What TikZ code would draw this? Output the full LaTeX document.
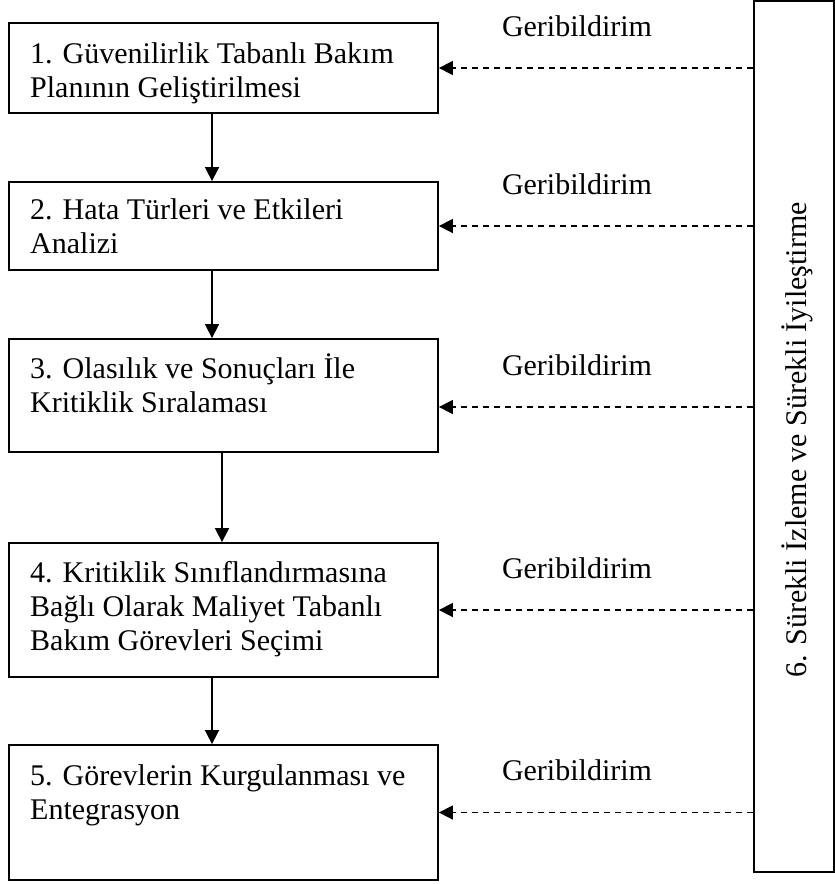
\documentclass[tikz,border=0pt]{standalone}
\usepackage{fontspec}
\setmainfont{Liberation Serif}
\usetikzlibrary{arrows.meta,calc}
\begin{document}
\begin{tikzpicture}[x=1pt,y=-1pt,
  box/.style={draw,line width=1.8pt,rectangle,inner sep=0pt,minimum width=429pt},
  boxtext/.style={anchor=north west,inner sep=0pt,align=left,font=\fontsize{30}{34}\selectfont},
  fbtext/.style={anchor=base,inner sep=0pt,font=\fontsize{30}{34}\selectfont},
  arr/.style={line width=1.6pt,-{Triangle[length=14pt,width=14pt]}},
  fb/.style={line width=1.6pt,dash pattern=on 6pt off 5pt,-{Triangle[length=14pt,width=14pt]}}]
\useasboundingbox (0,0) rectangle (835,884);
% boxes
\node[box,minimum height=90pt]  (b1) at (223.5,68) {};
\node[box,minimum height=88pt]  (b2) at (223.5,226) {};
\node[box,minimum height=113pt] (b3) at (223.5,395.5) {};
\node[box,minimum height=134pt] (b4) at (223.5,610) {};
\node[box,minimum height=135pt] (b5) at (223.5,812.5) {};
\node[draw,line width=1.8pt,rectangle,inner sep=0pt,minimum width=80pt,minimum height=871pt] (rb) at (794,436.5) {};
% box texts
\node[boxtext] (t1) at (30,{63-23.8}) {\strut 1. Güvenilirlik Tabanlı Bakım\\Planının Geliştirilmesi};
\node[boxtext] (t2) at (30,{219-23.8}) {\strut 2. Hata Türleri ve Etkileri\\Analizi};
\node[boxtext] (t3) at (30,{377-23.8}) {\strut 3. Olasılık ve Sonuçları İle\\Kritiklik Sıralaması};
\node[boxtext] (t4) at (30,{582-23.8}) {\strut 4. Kritiklik Sınıflandırmasına\\Bağlı Olarak Maliyet Tabanlı\\Bakım Görevleri Seçimi};
\node[boxtext] (t5) at (30,{785-23.8}) {\strut 5. Görevlerin Kurgulanması ve\\Entegrasyon};
% vertical text
\node[rotate=90,inner sep=0pt,font=\fontsize{30}{34}\selectfont] (t6) at (797,440) {6. Sürekli İzleme ve Sürekli İyileştirme};
% feedback labels
\node[fbtext] (g1) at (577,36) {Geribildirim};
\node[fbtext] (g2) at (577,194) {Geribildirim};
\node[fbtext] (g3) at (577,375) {Geribildirim};
\node[fbtext] (g4) at (577,578) {Geribildirim};
\node[fbtext] (g5) at (577,780) {Geribildirim};
% vertical arrows
\draw[arr] ([xshift=-11.5pt]b1.south) -- ([xshift=-11.5pt]b2.north);
\draw[arr] ([xshift=-11.5pt]b2.south) -- ([xshift=-11.5pt]b3.north);
\draw[arr] ([xshift=-1.5pt]b3.south) -- ([xshift=-1.5pt]b4.north);
\draw[arr] ([xshift=-11.5pt]b4.south) -- ([xshift=-11.5pt]b5.north);
% feedback arrows
\coordinate (e3) at ([yshift=-11.5pt]b3.east);
\draw[fb] (rb.west |- b1.east) -- (b1.east);
\draw[fb] (rb.west |- b2.east) -- (b2.east);
\draw[fb] (rb.west |- e3) -- (e3);
\draw[fb] (rb.west |- b4.east) -- (b4.east);
\draw[fb] (rb.west |- b5.east) -- (b5.east);
\end{tikzpicture}
\end{document}
